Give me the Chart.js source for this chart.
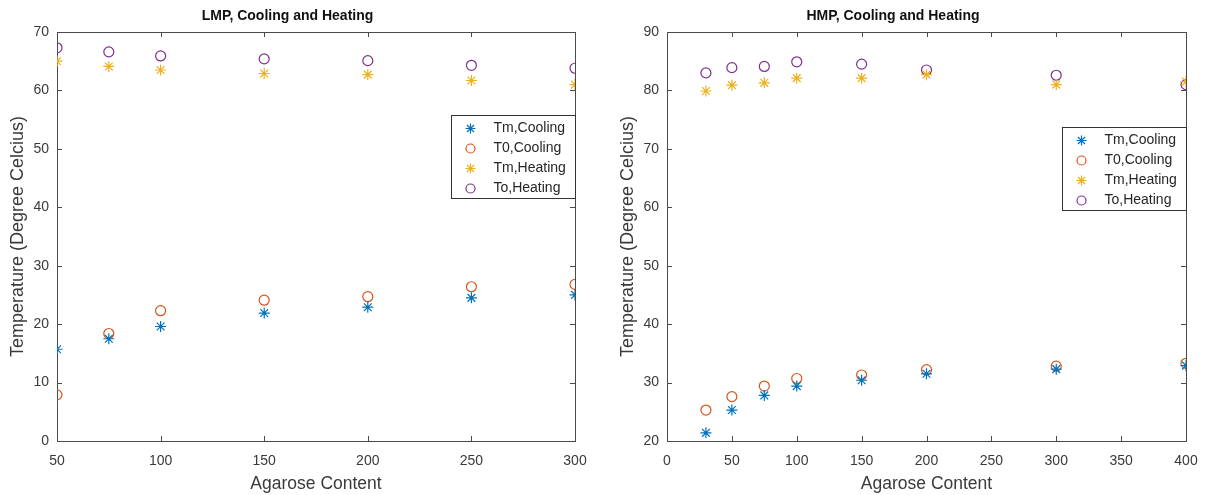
<!DOCTYPE html>
<html>
<head>
<meta charset="utf-8">
<script src="https://cdn.jsdelivr.net/npm/chart.js@4.4.1/dist/chart.umd.min.js"></script>
<style>
    html, body { margin: 0; padding: 0; background: #fff; }
    #wrap { position: relative; width: 1205px; height: 495px; }
    #lmpChart { position: absolute; left: 0; top: 0; }
    #hmpChart { position: absolute; left: 600px; top: 0; }
</style>
</head>
<body>
<div id="wrap">
    <canvas id="lmpChart" width="600" height="495"></canvas>
    <canvas id="hmpChart" width="605" height="495"></canvas>
</div>
<script>
// LMP verileri
const lmpAgarose = [50, 75, 100, 150, 200, 250, 300];
const lmpTmCooling = [15.7, 17.5, 19.6, 21.9, 22.9, 24.5, 25.0];
const lmpT0Cooling = [7.9, 18.4, 22.3, 24.1, 24.7, 26.4, 26.8];
const lmpTmHeating = [65.0, 64.1, 63.5, 62.9, 62.7, 61.7, 61.0];
const lmpToHeating = [67.3, 66.6, 65.9, 65.4, 65.1, 64.3, 63.8];

// HMP verileri
const hmpAgarose = [30, 50, 75, 100, 150, 200, 300, 400];
const hmpTmCooling = [21.4, 25.3, 27.8, 29.4, 30.4, 31.5, 32.3, 32.9];
const hmpT0Cooling = [25.3, 27.6, 29.4, 30.7, 31.3, 32.2, 32.8, 33.3];
const hmpTmHeating = [79.9, 80.9, 81.3, 82.1, 82.1, 82.7, 81.0, 81.5];
const hmpToHeating = [83.0, 83.9, 84.1, 84.9, 84.5, 83.5, 82.6, 81.0];

// eksen aralıkları [min, max, adım]
const lmpXTicks = [50, 300, 50];
const lmpYTicks = [0, 70, 10];
const hmpXTicks = [0, 400, 50];
const hmpYTicks = [20, 90, 10];

const seriesNames = ['Tm,Cooling', 'T0,Cooling', 'Tm,Heating', 'To,Heating'];
const seriesColors = ['#0072BD', '#D95319', '#EDB120', '#7E2F8E'];
const seriesStyles = ['star', 'circle', 'star', 'circle'];

const FONT = '"Liberation Sans", Arial, Helvetica, sans-serif';
const TEXT_COLOR = '#3a3a3a';
const AXIS_COLOR = '#4a4a4a';

function toPoints(xs, ys) {
    return xs.map((x, i) => ({ x: x, y: ys[i] }));
}

function drawMarker(ctx, style, x, y, r) {
    ctx.beginPath();
    if (style === 'circle') {
        ctx.arc(x, y, r, 0, Math.PI * 2);
    } else {
        const d = r * Math.SQRT1_2;
        ctx.moveTo(x - r, y); ctx.lineTo(x + r, y);
        ctx.moveTo(x, y - r); ctx.lineTo(x, y + r);
        ctx.moveTo(x - d, y - d); ctx.lineTo(x + d, y + d);
        ctx.moveTo(x - d, y + d); ctx.lineTo(x + d, y - d);
    }
    ctx.stroke();
}

// MATLAB tarzı kutu ve içe dönük çentikler
const boxPlugin = {
    id: 'matlabBox',
    beforeDatasetsDraw(chart) {
        const { ctx, chartArea: a, scales } = chart;
        const len = 5;
        ctx.save();
        ctx.strokeStyle = AXIS_COLOR;
        ctx.lineWidth = 1;
        ctx.strokeRect(Math.round(a.left) + 0.5, Math.round(a.top) + 0.5,
            Math.round(a.right - a.left), Math.round(a.bottom - a.top));
        ctx.beginPath();
        scales.x.ticks.forEach(t => {
            const px = Math.round(scales.x.getPixelForValue(t.value)) + 0.5;
            ctx.moveTo(px, a.bottom); ctx.lineTo(px, a.bottom - len);
            ctx.moveTo(px, a.top); ctx.lineTo(px, a.top + len);
        });
        scales.y.ticks.forEach(t => {
            const py = Math.round(scales.y.getPixelForValue(t.value)) + 0.5;
            ctx.moveTo(a.left, py); ctx.lineTo(a.left + len, py);
            ctx.moveTo(a.right, py); ctx.lineTo(a.right - len, py);
        });
        ctx.stroke();
        ctx.restore();
    }
};

// grafik içindeki lejant kutusu
const legendPlugin = {
    id: 'boxLegend',
    afterDraw(chart, args, opts) {
        const { ctx, chartArea: a } = chart;
        const w = 124, h = 83;
        const x0 = Math.round(a.right - w) + 0.5;
        const y0 = opts.top + 0.5;
        ctx.save();
        ctx.fillStyle = '#fff';
        ctx.fillRect(x0, y0, w, h);
        ctx.strokeStyle = '#333';
        ctx.lineWidth = 1;
        ctx.strokeRect(x0, y0, w, h);
        ctx.font = '14px ' + FONT;
        ctx.textBaseline = 'middle';
        ctx.textAlign = 'left';
        seriesNames.forEach((name, i) => {
            const cy = y0 + 13 + i * 20;
            ctx.strokeStyle = seriesColors[i];
            ctx.lineWidth = 1.2;
            drawMarker(ctx, seriesStyles[i], x0 + 19, cy, seriesStyles[i] === 'circle' ? 4.5 : 5);
            ctx.fillStyle = '#262626';
            ctx.fillText(name, x0 + 42, cy);
        });
        ctx.restore();
    }
};

function buildChart(canvasId, title, xs, series, xTicks, yTicks, cfg) {
    const ctx = document.getElementById(canvasId);
    const datasets = series.map((ys, i) => ({
        label: seriesNames[i],
        data: toPoints(xs, ys),
        pointStyle: seriesStyles[i],
        pointRadius: seriesStyles[i] === 'circle' ? 5 : 5.5,
        pointBorderWidth: 1.2,
        borderColor: seriesColors[i],
        backgroundColor: 'rgba(0,0,0,0)',
        pointBackgroundColor: 'rgba(0,0,0,0)',
        showLine: false
    }));

    return new Chart(ctx, {
        type: 'scatter',
        data: { datasets: datasets },
        options: {
            responsive: false,
            animation: false,
            layout: { padding: { left: 0, right: cfg.padRight, top: 0, bottom: 0 } },
            plugins: {
                legend: { display: false },
                tooltip: { enabled: false },
                title: {
                    display: true,
                    text: title,
                    color: '#111',
                    font: { family: FONT, size: 14, weight: 'bold' },
                    padding: { top: 8, bottom: 7.2 }
                },
                boxLegend: { top: cfg.legendTop }
            },
            scales: {
                x: {
                    type: 'linear',
                    min: xTicks[0],
                    max: xTicks[1],
                    grid: { display: false, drawTicks: false },
                    border: { display: false },
                    ticks: {
                        stepSize: xTicks[2],
                        color: TEXT_COLOR,
                        padding: 12,
                        maxRotation: 0,
                        font: { family: FONT, size: 14 }
                    },
                    title: {
                        display: true,
                        text: 'Agarose Content',
                        color: TEXT_COLOR,
                        font: { family: FONT, size: 17.5 },
                        padding: { top: 0, bottom: 0 }
                    },
                    afterFit: s => {
                        s.height = 54;
                        s.paddingLeft = 0;
                        s.paddingRight = 0;
                    }
                },
                y: {
                    type: 'linear',
                    min: yTicks[0],
                    max: yTicks[1],
                    grid: { display: false, drawTicks: false },
                    border: { display: false },
                    ticks: {
                        stepSize: yTicks[2],
                        color: TEXT_COLOR,
                        padding: 8,
                        font: { family: FONT, size: 14 }
                    },
                    title: {
                        display: true,
                        text: 'Temperature (Degree Celcius)',
                        color: TEXT_COLOR,
                        font: { family: FONT, size: 18 },
                        padding: { top: cfg.yTitlePad, bottom: 0 }
                    },
                    afterFit: s => {
                        s.width = cfg.yWidth;
                        s.paddingTop = 0;
                        s.paddingBottom = 0;
                    }
                }
            }
        },
        plugins: [boxPlugin, legendPlugin]
    });
}

document.addEventListener('DOMContentLoaded', () => {
    buildChart('lmpChart', 'LMP, Cooling and Heating', lmpAgarose,
        [lmpTmCooling, lmpT0Cooling, lmpTmHeating, lmpToHeating],
        lmpXTicks, lmpYTicks,
        { padRight: 25, yWidth: 57, yTitlePad: 7, legendTop: 115 });

    buildChart('hmpChart', 'HMP, Cooling and Heating', hmpAgarose,
        [hmpTmCooling, hmpT0Cooling, hmpTmHeating, hmpToHeating],
        hmpXTicks, hmpYTicks,
        { padRight: 19, yWidth: 67, yTitlePad: 17, legendTop: 127 });
});
</script>
</body>
</html>
